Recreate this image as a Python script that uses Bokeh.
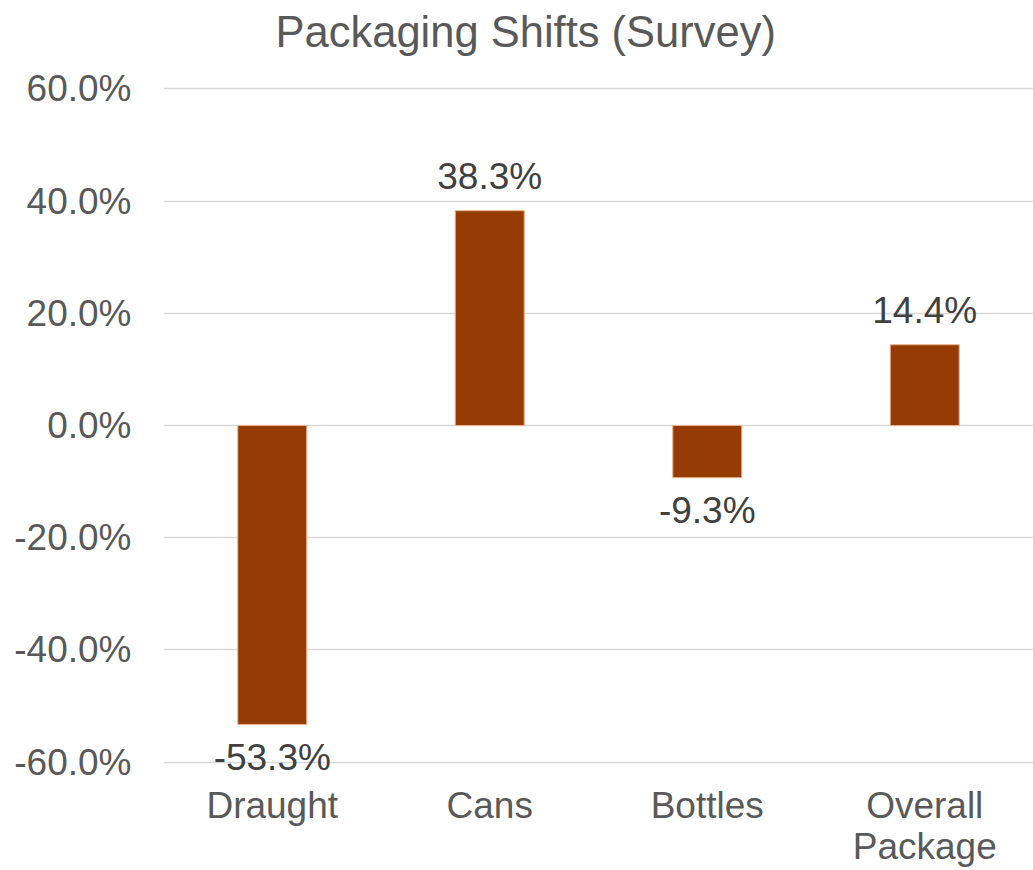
from bokeh.plotting import figure
from bokeh.models import FactorRange, Range1d, FixedTicker, NumeralTickFormatter, ColumnDataSource
from bokeh.embed import file_html
from bokeh.resources import INLINE
from bokeh.core.properties import value

# ---- data ----
categories = ["Draught", "Cans", "Bottles", "Overall\nPackage"]
shifts = [-0.533, 0.383, -0.093, 0.144]
y_ticks = [-0.6, -0.4, -0.2, 0.0, 0.2, 0.4, 0.6]
title_text = "Packaging Shifts (Survey)"

FONT = "Liberation Sans"
BAR = "#943C04"
FS = "37px"

p = figure(
    width=1033, height=870,
    x_range=FactorRange(factors=categories, range_padding=0),
    y_range=Range1d(-0.6294, 0.6508),
    output_backend="svg", toolbar_location=None,
    min_border_left=163, min_border_right=0,
    min_border_top=60, min_border_bottom=92,
)
p.outline_line_color = None
p.background_fill_color = "white"
p.border_fill_color = "white"

# title
p.title.text = title_text
p.title.align = "left"
p.title.offset = 112
p.title.vertical_align = "bottom"
p.title.standoff = 10
p.title.text_font = FONT
p.title.text_font_size = "43.5px"
p.title.text_font_style = "normal"
p.title.text_color = "#595959"

# grid
p.xgrid.visible = False
p.ygrid.grid_line_color = "#D9D9D9"
p.ygrid.grid_line_width = 1.5
p.ygrid.ticker = FixedTicker(ticks=y_ticks)

# y axis
p.yaxis.ticker = FixedTicker(ticks=y_ticks)
p.yaxis.formatter = NumeralTickFormatter(format="0.0%")
p.yaxis.axis_line_color = None
p.yaxis.major_tick_line_color = None
p.yaxis.minor_tick_line_color = None
p.yaxis.major_tick_out = 0
p.yaxis.major_tick_in = 0
p.yaxis.major_label_standoff = 32
p.yaxis.major_label_text_font = FONT
p.yaxis.major_label_text_font_size = FS
p.yaxis.major_label_text_color = "#595959"

# x axis
p.xaxis.axis_line_color = None
p.xaxis.major_tick_line_color = None
p.xaxis.minor_tick_line_color = None
p.xaxis.major_tick_out = 0
p.xaxis.major_tick_in = 0
p.xaxis.major_label_standoff = 6
p.xaxis.major_label_text_font = FONT
p.xaxis.major_label_text_font_size = FS
p.xaxis.major_label_text_line_height = 1.0
p.xaxis.major_label_text_color = "#595959"

src = ColumnDataSource(dict(cat=categories, val=shifts))
p.vbar(x="cat", top="val", bottom=0, width=0.317, source=src,
       fill_color=BAR, line_color="#EBB08A", line_width=1)

pos = ColumnDataSource(dict(
    cat=[c for c, v in zip(categories, shifts) if v >= 0],
    val=[v for v in shifts if v >= 0],
    lbl=[f"{v*100:.1f}%" for v in shifts if v >= 0]))
neg = ColumnDataSource(dict(
    cat=[c for c, v in zip(categories, shifts) if v < 0],
    val=[v for v in shifts if v < 0],
    lbl=[f"{v*100:.1f}%" for v in shifts if v < 0]))

common = dict(text="lbl", text_font=value(FONT), text_font_size=FS,
              text_color="#404040", text_align="center", text_baseline="alphabetic")
p.text(x="cat", y="val", source=pos, y_offset=-34, **common)
p.text(x="cat", y="val", source=neg, y_offset=33, **common)

open("out.html", "w").write(file_html(p, INLINE))
